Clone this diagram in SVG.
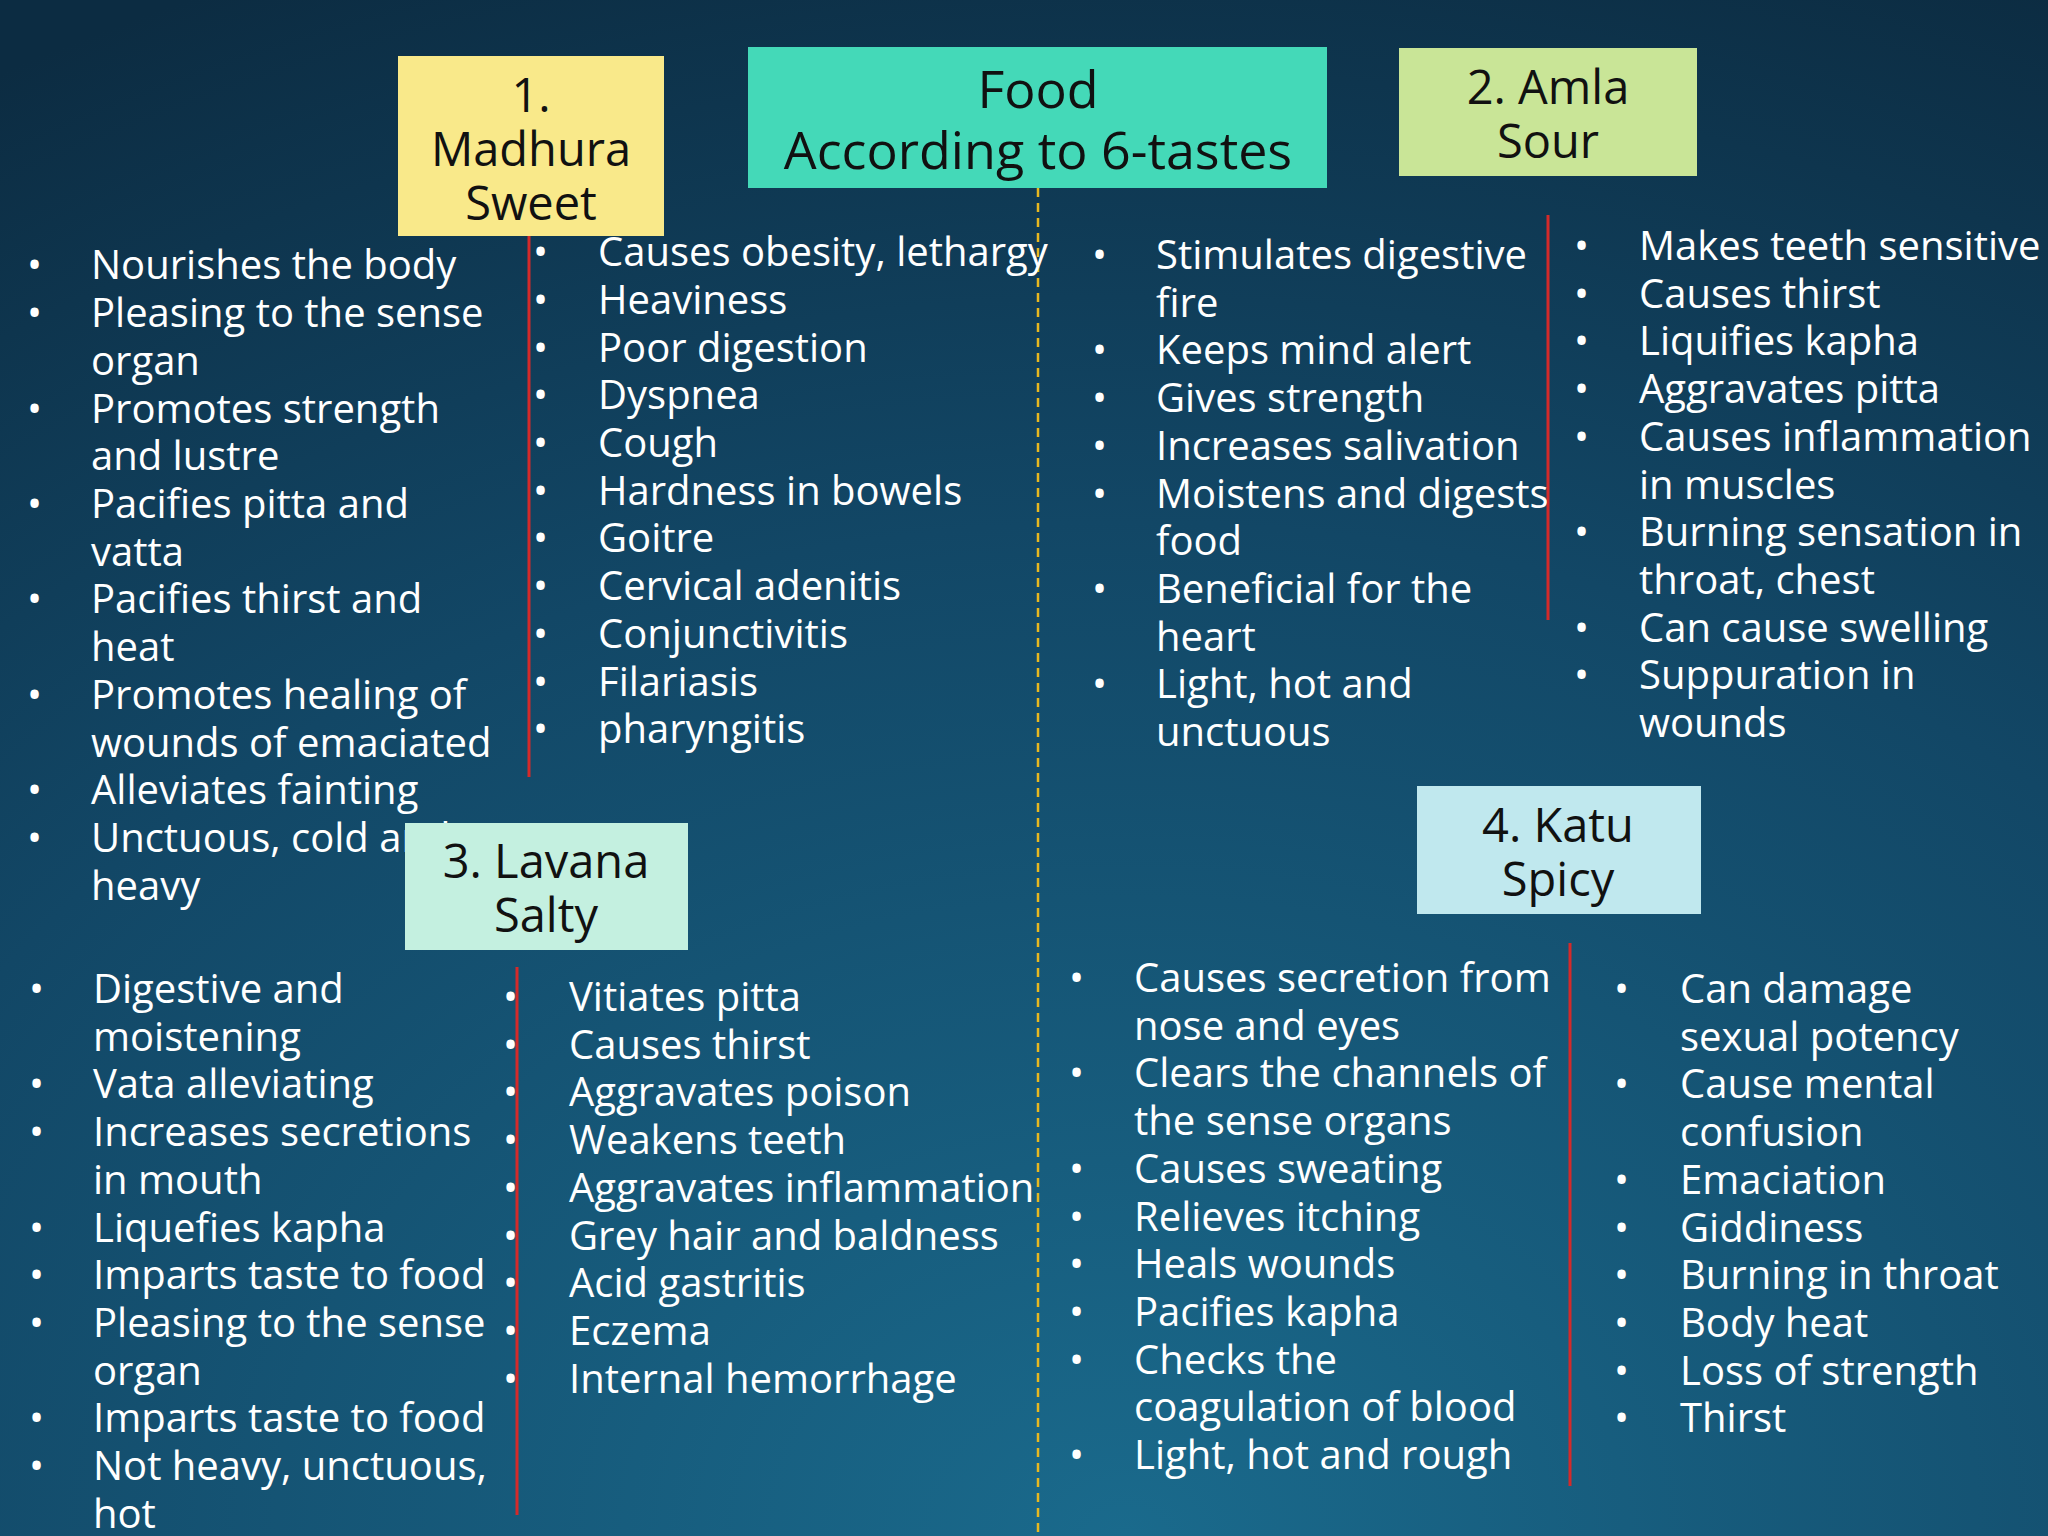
<svg xmlns="http://www.w3.org/2000/svg" width="2048" height="1536" viewBox="0 0 2048 1536">
<defs>
<radialGradient id="bg" cx="0.55" cy="1" r="1.1">
<stop offset="0" stop-color="#1a6a8c"/>
<stop offset="0.6" stop-color="#124766"/>
<stop offset="1" stop-color="#0c2c42"/>
</radialGradient>
<style>
.t{font-family:"Open Sans","Noto Sans",sans-serif;font-size:40px;fill:#ffffff}
.b{font-family:"Open Sans","Noto Sans",sans-serif;font-size:40px;fill:#ffffff}
.h{font-family:"Open Sans","Noto Sans",sans-serif;font-size:47px;fill:#111111;text-anchor:middle}
.r{stroke:#d42a2a;stroke-width:3}
</style>
</defs>
<rect width="2048" height="1536" fill="url(#bg)"/>
<g id="connectors">
<line x1="1038" y1="188" x2="1038" y2="1536" stroke="#e8b820" stroke-width="2.5" stroke-dasharray="9,6"/>
<line class="r" x1="529" y1="235" x2="529" y2="777"/>
<line class="r" x1="1548" y1="215" x2="1548" y2="620"/>
<line class="r" x1="517" y1="967" x2="517" y2="1515"/>
<line class="r" x1="1570" y1="943" x2="1570" y2="1486"/>
</g>
<g id="madhura-benefits" class="t">
<text x="27" y="279">•</text><text x="91" y="279">Nourishes the body</text>
<text x="27" y="327">•</text><text x="91" y="327">Pleasing to the sense</text><text x="91" y="375">organ</text>
<text x="27" y="423">•</text><text x="91" y="423">Promotes strength</text><text x="91" y="470">and lustre</text>
<text x="27" y="518">•</text><text x="91" y="518">Pacifies pitta and</text><text x="91" y="566">vatta</text>
<text x="27" y="613">•</text><text x="91" y="613">Pacifies thirst and</text><text x="91" y="661">heat</text>
<text x="27" y="709">•</text><text x="91" y="709">Promotes healing of</text><text x="91" y="757">wounds of emaciated</text>
<text x="27" y="804">•</text><text x="91" y="804">Alleviates fainting</text>
<text x="27" y="852">•</text><text x="91" y="852">Unctuous, cold and</text><text x="91" y="900">heavy</text>
</g>
<g id="madhura-effects" class="t">
<text x="533" y="266">•</text><text x="598" y="266">Causes obesity, lethargy</text>
<text x="533" y="314">•</text><text x="598" y="314">Heaviness</text>
<text x="533" y="362">•</text><text x="598" y="362">Poor digestion</text>
<text x="533" y="409">•</text><text x="598" y="409">Dyspnea</text>
<text x="533" y="457">•</text><text x="598" y="457">Cough</text>
<text x="533" y="505">•</text><text x="598" y="505">Hardness in bowels</text>
<text x="533" y="552">•</text><text x="598" y="552">Goitre</text>
<text x="533" y="600">•</text><text x="598" y="600">Cervical adenitis</text>
<text x="533" y="648">•</text><text x="598" y="648">Conjunctivitis</text>
<text x="533" y="696">•</text><text x="598" y="696">Filariasis</text>
<text x="533" y="743">•</text><text x="598" y="743">pharyngitis</text>
</g>
<g id="amla-benefits" class="t">
<text x="1092" y="269">•</text><text x="1156" y="269">Stimulates digestive</text><text x="1156" y="317">fire</text>
<text x="1092" y="364">•</text><text x="1156" y="364">Keeps mind alert</text>
<text x="1092" y="412">•</text><text x="1156" y="412">Gives strength</text>
<text x="1092" y="460">•</text><text x="1156" y="460">Increases salivation</text>
<text x="1092" y="508">•</text><text x="1156" y="508">Moistens and digests</text><text x="1156" y="555">food</text>
<text x="1092" y="603">•</text><text x="1156" y="603">Beneficial for the</text><text x="1156" y="651">heart</text>
<text x="1092" y="698">•</text><text x="1156" y="698">Light, hot and</text><text x="1156" y="746">unctuous</text>
</g>
<g id="amla-effects" class="t">
<text x="1574" y="260">•</text><text x="1639" y="260">Makes teeth sensitive</text>
<text x="1574" y="308">•</text><text x="1639" y="308">Causes thirst</text>
<text x="1574" y="355">•</text><text x="1639" y="355">Liquifies kapha</text>
<text x="1574" y="403">•</text><text x="1639" y="403">Aggravates pitta</text>
<text x="1574" y="451">•</text><text x="1639" y="451">Causes inflammation</text><text x="1639" y="499">in muscles</text>
<text x="1574" y="546">•</text><text x="1639" y="546">Burning sensation in</text><text x="1639" y="594">throat, chest</text>
<text x="1574" y="642">•</text><text x="1639" y="642">Can cause swelling</text>
<text x="1574" y="689">•</text><text x="1639" y="689">Suppuration in</text><text x="1639" y="737">wounds</text>
</g>
<g id="lavana-benefits" class="t">
<text x="29" y="1003">•</text><text x="93" y="1003">Digestive and</text><text x="93" y="1051">moistening</text>
<text x="29" y="1098">•</text><text x="93" y="1098">Vata alleviating</text>
<text x="29" y="1146">•</text><text x="93" y="1146">Increases secretions</text><text x="93" y="1194">in mouth</text>
<text x="29" y="1242">•</text><text x="93" y="1242">Liquefies kapha</text>
<text x="29" y="1289">•</text><text x="93" y="1289">Imparts taste to food</text>
<text x="29" y="1337">•</text><text x="93" y="1337">Pleasing to the sense</text><text x="93" y="1385">organ</text>
<text x="29" y="1432">•</text><text x="93" y="1432">Imparts taste to food</text>
<text x="29" y="1480">•</text><text x="93" y="1480">Not heavy, unctuous,</text><text x="93" y="1528">hot</text>
</g>
<g id="lavana-effects" class="t">
<text x="503" y="1011">•</text><text x="569" y="1011">Vitiates pitta</text>
<text x="503" y="1059">•</text><text x="569" y="1059">Causes thirst</text>
<text x="503" y="1106">•</text><text x="569" y="1106">Aggravates poison</text>
<text x="503" y="1154">•</text><text x="569" y="1154">Weakens teeth</text>
<text x="503" y="1202">•</text><text x="569" y="1202">Aggravates inflammation</text>
<text x="503" y="1250">•</text><text x="569" y="1250">Grey hair and baldness</text>
<text x="503" y="1297">•</text><text x="569" y="1297">Acid gastritis</text>
<text x="503" y="1345">•</text><text x="569" y="1345">Eczema</text>
<text x="503" y="1393">•</text><text x="569" y="1393">Internal hemorrhage</text>
</g>
<g id="katu-benefits" class="t">
<text x="1069" y="992">•</text><text x="1134" y="992">Causes secretion from</text><text x="1134" y="1040">nose and eyes</text>
<text x="1069" y="1087">•</text><text x="1134" y="1087">Clears the channels of</text><text x="1134" y="1135">the sense organs</text>
<text x="1069" y="1183">•</text><text x="1134" y="1183">Causes sweating</text>
<text x="1069" y="1231">•</text><text x="1134" y="1231">Relieves itching</text>
<text x="1069" y="1278">•</text><text x="1134" y="1278">Heals wounds</text>
<text x="1069" y="1326">•</text><text x="1134" y="1326">Pacifies kapha</text>
<text x="1069" y="1374">•</text><text x="1134" y="1374">Checks the</text><text x="1134" y="1421">coagulation of blood</text>
<text x="1069" y="1469">•</text><text x="1134" y="1469">Light, hot and rough</text>
</g>
<g id="katu-effects" class="t">
<text x="1614" y="1003">•</text><text x="1680" y="1003">Can damage</text><text x="1680" y="1051">sexual potency</text>
<text x="1614" y="1098">•</text><text x="1680" y="1098">Cause mental</text><text x="1680" y="1146">confusion</text>
<text x="1614" y="1194">•</text><text x="1680" y="1194">Emaciation</text>
<text x="1614" y="1242">•</text><text x="1680" y="1242">Giddiness</text>
<text x="1614" y="1289">•</text><text x="1680" y="1289">Burning in throat</text>
<text x="1614" y="1337">•</text><text x="1680" y="1337">Body heat</text>
<text x="1614" y="1385">•</text><text x="1680" y="1385">Loss of strength</text>
<text x="1614" y="1432">•</text><text x="1680" y="1432">Thirst</text>
</g>
<g id="food">
<rect x="748" y="47" width="579" height="141" fill="#44d9b8"/>
<text class="h" x="1038" y="108" style="font-size:52px">Food</text>
<text class="h" x="1038" y="169" style="font-size:52px">According to 6-tastes</text>
</g>
<g id="madhura">
<rect x="398" y="56" width="266" height="180" fill="#f9e98a"/>
<text class="h" x="531" y="112">1.</text>
<text class="h" x="531" y="166">Madhura</text>
<text class="h" x="531" y="220">Sweet</text>
</g>
<g id="amla">
<rect x="1399" y="48" width="298" height="128" fill="#c9e597"/>
<text class="h" x="1548" y="104">2. Amla</text>
<text class="h" x="1548" y="158">Sour</text>
</g>
<g id="lavana">
<rect x="405" y="823" width="283" height="127" fill="#c4f0e0"/>
<text class="h" x="546" y="878">3. Lavana</text>
<text class="h" x="546" y="932">Salty</text>
</g>
<g id="katu">
<rect x="1417" y="786" width="284" height="128" fill="#c0e8ee"/>
<text class="h" x="1558" y="842">4. Katu</text>
<text class="h" x="1558" y="896">Spicy</text>
</g>
</svg>
